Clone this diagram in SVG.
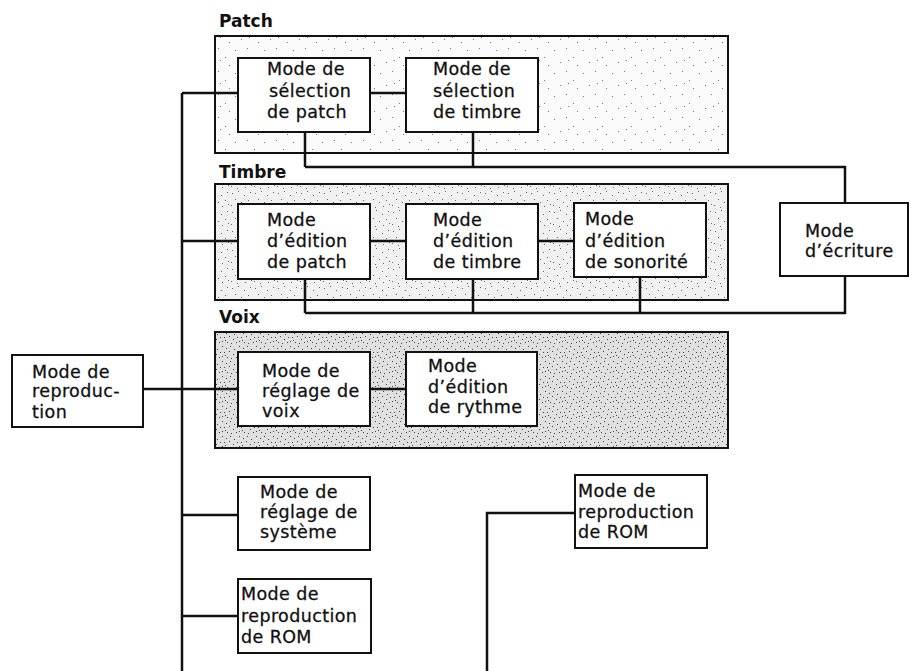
<svg xmlns="http://www.w3.org/2000/svg" width="912" height="671" viewBox="0 0 912 671">
<defs>
<pattern id="dotsLight" width="29" height="23" patternUnits="userSpaceOnUse">
<rect width="29" height="23" fill="#fbfbfb"/>
<g fill="#777">
<rect x="3" y="4" width="1" height="1"/><rect x="15" y="2" width="1" height="1"/><rect x="22" y="11" width="1" height="1"/><rect x="9" y="16" width="1" height="1"/><rect x="26" y="19" width="1" height="1"/><rect x="17" y="14" width="1" height="1"/>
</g>
</pattern>
<pattern id="dotsMed" width="23" height="19" patternUnits="userSpaceOnUse">
<rect width="23" height="19" fill="#f1f1f1"/>
<g fill="#666">
<rect x="2" y="3" width="1" height="1"/><rect x="8" y="1" width="1" height="1"/><rect x="14" y="5" width="1" height="1"/><rect x="20" y="2" width="1" height="1"/><rect x="5" y="9" width="1" height="1"/><rect x="11" y="12" width="1" height="1"/><rect x="18" y="10" width="1" height="1"/><rect x="1" y="15" width="1" height="1"/><rect x="15" y="16" width="1" height="1"/><rect x="21" y="14" width="1" height="1"/><rect x="7" y="17" width="1" height="1"/>
</g>
</pattern>
<pattern id="dotsDense" width="17" height="15" patternUnits="userSpaceOnUse">
<rect width="17" height="15" fill="#e0e0e0"/>
<g fill="#444">
<rect x="1" y="1" width="1" height="1"/><rect x="5" y="3" width="1" height="1"/><rect x="9" y="1" width="1" height="1"/><rect x="13" y="4" width="1" height="1"/><rect x="3" y="7" width="1" height="1"/><rect x="8" y="6" width="1" height="1"/><rect x="12" y="9" width="1" height="1"/><rect x="16" y="7" width="1" height="1"/><rect x="1" y="11" width="1" height="1"/><rect x="6" y="12" width="1" height="1"/><rect x="10" y="13" width="1" height="1"/><rect x="15" y="12" width="1" height="1"/><rect x="4" y="10" width="1" height="1"/>
</g>
</pattern>
</defs>
<style>
.grp{stroke:#111;stroke-width:2}
.box{fill:#fff;stroke:#111;stroke-width:2}
.lbl{font-family:"DejaVu Sans",sans-serif;font-size:17px;font-weight:bold;fill:#111}
.t{font-family:"DejaVu Sans",sans-serif;font-size:17.5px;letter-spacing:0.4px;fill:#111;stroke:#111;stroke-width:0.3}
.c{fill:none;stroke:#111;stroke-width:2.5}
</style>
<rect width="912" height="671" fill="#fff"/>

<g id="group-patch">
<rect class="grp" x="215" y="36" width="513" height="117" fill="url(#dotsLight)"/>
<text class="lbl" x="219" y="27">Patch</text>
</g>
<g id="group-timbre">
<rect class="grp" x="215" y="184" width="513" height="116" fill="url(#dotsMed)"/>
<text class="lbl" x="219" y="178">Timbre</text>
</g>
<g id="group-voix">
<rect class="grp" x="215" y="332" width="513" height="116" fill="url(#dotsDense)"/>
<text class="lbl" x="219" y="323">Voix</text>
</g>

<g id="connectors">
<path class="c" d="M182 93 V671"/>
<path class="c" d="M182 93 H238"/>
<path class="c" d="M370 93 H406"/>
<path class="c" d="M305 132 V167 M473 132 V167 M305 167 H845 V203"/>
<path class="c" d="M182 241 H238 M370 241 H406 M538 241 H574"/>
<path class="c" d="M305 279 V313 M473 279 V313 M640 277 V313 M305 313 H845 V276"/>
<path class="c" d="M143 389 H238 M370 389 H406"/>
<path class="c" d="M182 515 H238 M182 616 H238"/>
<path class="c" d="M487 671 V513 H575"/>
</g>

<g id="node-selection-patch">
<rect class="box" x="238" y="58" width="132" height="74"/>
<text class="t" x="267" y="75">Mode de</text>
<text class="t" x="269" y="97">sélection</text>
<text class="t" x="267" y="118">de patch</text>
</g>
<g id="node-selection-timbre">
<rect class="box" x="406" y="58" width="132" height="74"/>
<text class="t" x="433" y="75">Mode de</text>
<text class="t" x="433" y="97">sélection</text>
<text class="t" x="433" y="118">de timbre</text>
</g>

<g id="node-edition-patch">
<rect class="box" x="238" y="204" width="132" height="75"/>
<text class="t" x="267" y="226">Mode</text>
<text class="t" x="267" y="247">d’édition</text>
<text class="t" x="267" y="268">de patch</text>
</g>
<g id="node-edition-timbre">
<rect class="box" x="406" y="204" width="132" height="75"/>
<text class="t" x="433" y="226">Mode</text>
<text class="t" x="433" y="247">d’édition</text>
<text class="t" x="433" y="268">de timbre</text>
</g>
<g id="node-edition-sonorite">
<rect class="box" x="574" y="203" width="132" height="74"/>
<text class="t" x="585" y="225">Mode</text>
<text class="t" x="585" y="247">d’édition</text>
<text class="t" x="585" y="268">de sonorité</text>
</g>

<g id="node-ecriture">
<rect class="box" x="780" y="203" width="128" height="73"/>
<text class="t" x="805" y="237">Mode</text>
<text class="t" x="805" y="257">d’écriture</text>
</g>

<g id="node-reglage-voix">
<rect class="box" x="238" y="352" width="132" height="74"/>
<text class="t" x="262" y="377">Mode de</text>
<text class="t" x="262" y="397">réglage de</text>
<text class="t" x="262" y="417">voix</text>
</g>
<g id="node-edition-rythme">
<rect class="box" x="406" y="352" width="131" height="74"/>
<text class="t" x="428" y="372">Mode</text>
<text class="t" x="428" y="393">d’édition</text>
<text class="t" x="428" y="413">de rythme</text>
</g>

<g id="node-reproduction">
<rect class="box" x="12" y="355" width="131" height="72"/>
<text class="t" x="32" y="378">Mode de</text>
<text class="t" x="32" y="397">reproduc-</text>
<text class="t" x="32" y="418">tion</text>
</g>

<g id="node-reglage-systeme">
<rect class="box" x="238" y="477" width="132" height="73"/>
<text class="t" x="260" y="498">Mode de</text>
<text class="t" x="260" y="518">réglage de</text>
<text class="t" x="260" y="538">système</text>
</g>

<g id="node-rom-left">
<rect class="box" x="238" y="579" width="133" height="74"/>
<text class="t" x="241" y="600">Mode de</text>
<text class="t" x="241" y="622">reproduction</text>
<text class="t" x="241" y="643">de ROM</text>
</g>

<g id="node-rom-right">
<rect class="box" x="575" y="475" width="132" height="73"/>
<text class="t" x="578" y="497">Mode de</text>
<text class="t" x="578" y="518">reproduction</text>
<text class="t" x="578" y="538">de ROM</text>
</g>
</svg>
